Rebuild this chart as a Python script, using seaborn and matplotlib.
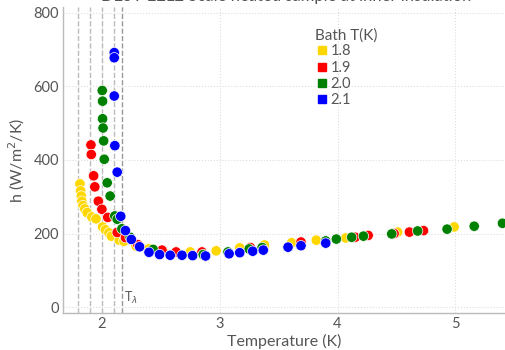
import numpy as np
import pandas as pd
import matplotlib
matplotlib.use("Agg")
import matplotlib.pyplot as plt
import seaborn as sns
from matplotlib.lines import Line2D

# ---- data ----
t_18 = [1.814, 1.82, 1.825, 1.83, 1.84, 1.855, 1.875, 1.915, 1.95, 2.006, 2.03, 2.06, 2.08,
        2.147, 2.187, 2.29, 2.40, 2.52, 2.75, 2.97, 3.17, 3.38, 3.61, 3.82, 4.07, 4.51, 4.99]
h_18 = [335, 316, 302, 288, 276, 267, 257, 245, 240, 218, 210, 202, 193,
        182, 179, 166, 159, 152, 150, 153, 161, 169, 175, 182, 188, 204, 218]

t_19 = [1.907, 1.91, 1.93, 1.94, 1.97, 2.00, 2.05, 2.13, 2.20, 2.305, 2.51, 2.63, 2.85,
        3.26, 3.69, 4.15, 4.26, 4.48, 4.61, 4.73]
h_19 = [441, 415, 357, 327, 288, 266, 244, 203, 189, 170, 155, 150, 150,
        162, 177, 190, 195, 200, 204, 208]

t_20 = [2.003, 2.006, 2.006, 2.01, 2.015, 2.02, 2.045, 2.07, 2.11, 2.13, 2.17, 2.24, 2.435,
        2.86, 3.07, 3.25, 3.36, 3.90, 3.99, 4.12, 4.22, 4.46, 4.68, 4.93, 5.16, 5.40]
h_20 = [589, 560, 512, 487, 452, 402, 338, 302, 248, 239, 213, 190, 157,
        143, 150, 158, 162, 180, 185, 190, 193, 199, 207, 212, 220, 228]

t_21 = [2.105, 2.105, 2.105, 2.11, 2.13, 2.16, 2.20, 2.25, 2.32, 2.40, 2.49, 2.58, 2.68,
        2.77, 2.88, 3.08, 3.17, 3.28, 3.37, 3.58, 3.69, 3.90]
h_21 = [692, 678, 574, 439, 367, 247, 208, 184, 164, 149, 143, 141, 141,
        140, 139, 145, 148, 152, 155, 163, 167, 174]

bath_labels = ["1.8", "1.9", "2.0", "2.1"]
bath_colors = ["#FFD700", "#FF0000", "#008000", "#0000FF"]
bath_lines = [1.8, 1.9, 2.0, 2.1]
t_lambda = 2.17

frames = []
for lab, t, h in zip(bath_labels, [t_18, t_19, t_20, t_21], [h_18, h_19, h_20, h_21]):
    frames.append(pd.DataFrame({"T": t, "h": h, "bath": lab}))
df = pd.concat(frames, ignore_index=True)

# ---- figure ----
sns.set_style("white")
plt.rcParams["font.family"] = ["Lato", "DejaVu Sans"]
txt = "#555555"

fig = plt.figure(figsize=(5.06, 3.5), dpi=100)
ax = fig.add_axes([63 / 506, 1 - 313 / 350, 1 - 63 / 506, 306 / 350])

ax.set_xlim(1.67, 5.43)
ax.set_ylim(-16, 816)
ax.set_xticks([2, 3, 4, 5])
ax.set_yticks([0, 200, 400, 600, 800])
ax.grid(True, linestyle=":", color="#dddddd", linewidth=0.8)
ax.set_axisbelow(True)

for x in bath_lines:
    ax.axvline(x, color="#bbbbbb", linestyle="--", linewidth=1.0, zorder=1)
ax.axvline(t_lambda, color="#999999", linestyle="--", linewidth=1.0, zorder=1)
ax.text(t_lambda + 0.02, 2, r"T$_\lambda$", color=txt, fontsize=9, va="bottom", ha="left")

sns.scatterplot(data=df, x="T", y="h", hue="bath", palette=dict(zip(bath_labels, bath_colors)),
                s=56, edgecolor="white", linewidth=0.5, legend=False, ax=ax, zorder=3)

for side in ["top", "right"]:
    ax.spines[side].set_visible(False)
for side in ["left", "bottom"]:
    ax.spines[side].set_color("#bbbbbb")
    ax.spines[side].set_linewidth(1.0)

ax.tick_params(axis="both", colors="#bbbbbb", labelcolor=txt, labelsize=10.5, length=0, pad=3)
ax.set_xlabel("Temperature (K)", color=txt, fontsize=11.5)
ax.set_ylabel("h (W/m$^2$/K)", color=txt, fontsize=11.5)
ax.xaxis.set_label_coords((284 - 63) / 443, (313 - 341) / 306)
ax.xaxis.label.set_va("center")
ax.yaxis.set_label_coords((17 - 63) / 443, (313 - 160) / 306)
ax.yaxis.label.set_va("center")

handles = [Line2D([], [], marker="s", linestyle="none", markersize=6,
                  markerfacecolor=c, markeredgecolor=c) for c in bath_colors]
leg = ax.legend(handles, bath_labels, title="Bath T(K)", loc="upper left",
                bbox_to_anchor=(0.545, 0.965), frameon=False, fontsize=10.5,
                title_fontsize=11, handletextpad=0.1, handlelength=1.0,
                labelspacing=0.15, borderpad=0.2)
leg.get_title().set_color(txt)
for t in leg.get_texts():
    t.set_color(txt)
leg._legend_box.align = "left"

fig.text(0.565, 1 - 1 / 350, "DESY E2L2 Scale heated sample at inner insulation",
         ha="center", va="baseline", color=txt, fontsize=12)

fig.savefig("out.png", dpi=100)
